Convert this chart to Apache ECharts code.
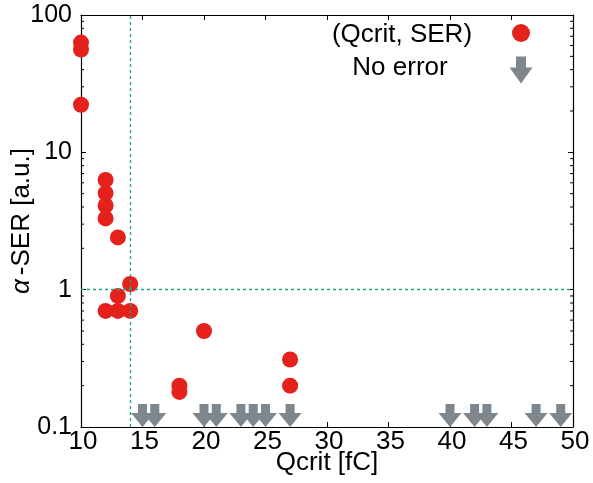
<!DOCTYPE html>
<html><head><meta charset="utf-8">
<script src="https://cdn.jsdelivr.net/npm/echarts@6/dist/echarts.min.js"></script>
<style>html,body{margin:0;padding:0;background:#fff}#c{width:593px;height:483px}</style>
</head><body><div id="c"></div>
<script>
// ---- data ----
const serQcrit  = [10, 10, 10, 12, 12, 12, 12, 13, 14, 13, 12, 13, 14, 20, 18, 18, 27, 27];
const serValues = [63, 56, 22.2, 6.3, 5.05, 4.1, 3.3, 2.4, 1.1, 0.9, 0.7, 0.7, 0.7, 0.5, 0.2, 0.18, 0.31, 0.2];
const noErrorQcrit = [15, 16, 20, 21, 23, 24, 25, 27, 40, 42, 43, 47, 49];
const noErrorFloor = 0.1;
const qcritThreshold = 14;
const serThreshold = 1;
const xTickValues = [10, 15, 20, 25, 30, 35, 40, 45, 50];
const yTickValues = [0.1, 1, 10, 100];
const yTickLabels = ['0.1', '1', '10', '100'];
const yMinorTicks = [0.2,0.3,0.4,0.5,0.6,0.7,0.8,0.9, 2,3,4,5,6,7,8,9, 20,30,40,50,60,70,80,90];
const legendNames = ['(Qcrit, SER)', 'No error'];

// ---- styles ----
const RED = '#e4211b', GRAY = '#7f878e', TEAL = '#1aa585';
const FONT = 'Liberation Sans';
const arrowPath = 'path://M7,0 L16,0 L16,9 L23,9 L11.5,23 L0,9 L7,9 Z';

const chart = echarts.init(document.getElementById('c'), null, {renderer: 'canvas'});
const axisCommon = {
  axisLine: {show: true, onZero: false, lineStyle: {color: '#000', width: 1.2}},
  splitLine: {show: false},
};
const option = {
  animation: false,
  backgroundColor: '#fff',
  grid: {left: 81, right: 20, top: 15, bottom: 56, containLabel: false, outerBoundsMode: 'none'},
  xAxis: [
    Object.assign({}, axisCommon, {
      type: 'value', min: xTickValues[0], max: xTickValues[xTickValues.length - 1], interval: 5,
      position: 'bottom',
      name: 'Qcrit [fC]', nameLocation: 'middle', nameGap: 23, nameMoveOverlap: false,
      nameTextStyle: {fontFamily: FONT, fontSize: 26, color: '#000'},
      axisTick: {inside: true, length: 5, lineStyle: {color: '#000'}},
      axisLabel: {fontFamily: FONT, fontSize: 26, color: '#000', margin: 2, padding: [0, 0, 0, 4]}
    }),
    Object.assign({}, axisCommon, {
      type: 'value', min: xTickValues[0], max: xTickValues[xTickValues.length - 1], interval: 5,
      position: 'top',
      axisTick: {inside: true, length: 5, lineStyle: {color: '#000'}},
      axisLabel: {show: false}
    })
  ],
  yAxis: [
    Object.assign({}, axisCommon, {
      type: 'log', logBase: 10, min: yTickValues[0], max: yTickValues[yTickValues.length - 1],
      position: 'left',
      name: '{i|α}-SER [a.u.]', nameLocation: 'middle', nameGap: 46, nameMoveOverlap: false,
      nameTextStyle: {fontFamily: FONT, fontSize: 26, color: '#000',
        rich: {i: {fontFamily: FONT, fontSize: 26, fontStyle: 'italic', color: '#000', padding: [0, 4, 0, 0]}}},
      axisTick: {inside: true, length: 5, lineStyle: {color: '#000'}},
      axisLabel: {fontFamily: FONT, fontSize: 25, color: '#000', margin: 9, padding: [6, 0, 0, 0],
        formatter: v => { const i = yTickValues.findIndex(t => Math.abs(t - v) / t < 1e-6); return i >= 0 ? yTickLabels[i] : ''; }}
    }),
    Object.assign({}, axisCommon, {
      type: 'log', logBase: 10, min: yTickValues[0], max: yTickValues[yTickValues.length - 1],
      position: 'right',
      axisTick: {inside: true, length: 5, lineStyle: {color: '#000'}},
      axisLabel: {show: false}
    })
  ],
  series: [
    {
      name: 'minorTicks', type: 'custom', silent: true, clip: false, z: 1,
      data: yMinorTicks.map(v => [xTickValues[0], v]),
      renderItem: (params, api) => {
        const v = api.value(1);
        const l = api.coord([xTickValues[0], v]);
        const r = api.coord([xTickValues[xTickValues.length - 1], v]);
        const st = {stroke: '#000', lineWidth: 1};
        return {type: 'group', children: [
          {type: 'line', shape: {x1: l[0], y1: l[1], x2: l[0] + 3, y2: l[1]}, style: st},
          {type: 'line', shape: {x1: r[0] - 3, y1: r[1], x2: r[0], y2: r[1]}, style: st}
        ]};
      }
    },
    {
      name: 'thresholds', type: 'scatter', data: [], silent: true,
      markLine: {
        silent: true, symbol: 'none', animation: false,
        lineStyle: {color: TEAL, type: [3, 3], width: 1.3},
        label: {show: false},
        data: [{xAxis: qcritThreshold}, {yAxis: serThreshold}]
      }
    },
    {
      name: legendNames[1], type: 'scatter', clip: false, z: 3,
      symbol: arrowPath, symbolSize: [23, 23], symbolKeepAspect: false,
      symbolOffset: [0, '-50%'],
      itemStyle: {color: GRAY, opacity: 1},
      data: noErrorQcrit.map(q => [q, noErrorFloor])
    },
    {
      name: legendNames[0], type: 'scatter', clip: false, z: 4,
      symbol: 'circle', symbolSize: 16,
      itemStyle: {color: RED, opacity: 1},
      data: serQcrit.map((q, i) => [q, serValues[i]])
    }
  ],
  graphic: [
    {type: 'text', x: 402, y: 35, z: 10,
      style: {text: legendNames[0], fontFamily: FONT, fontSize: 26, fill: '#000', align: 'center', verticalAlign: 'middle'}},
    {type: 'circle', x: 521, y: 33, z: 10, shape: {cx: 0, cy: 0, r: 9}, style: {fill: RED}},
    {type: 'text', x: 400, y: 68, z: 10,
      style: {text: legendNames[1], fontFamily: FONT, fontSize: 26, fill: '#000', align: 'center', verticalAlign: 'middle'}},
    {type: 'polygon', x: 521, y: 70, z: 10,
      shape: {points: [[-5, -13.5], [5, -13.5], [5, -2.5], [11.5, -2.5], [0, 13.5], [-11.5, -2.5], [-5, -2.5]]},
      style: {fill: GRAY}}
  ]
};
chart.setOption(option);
</script>
</body></html>
